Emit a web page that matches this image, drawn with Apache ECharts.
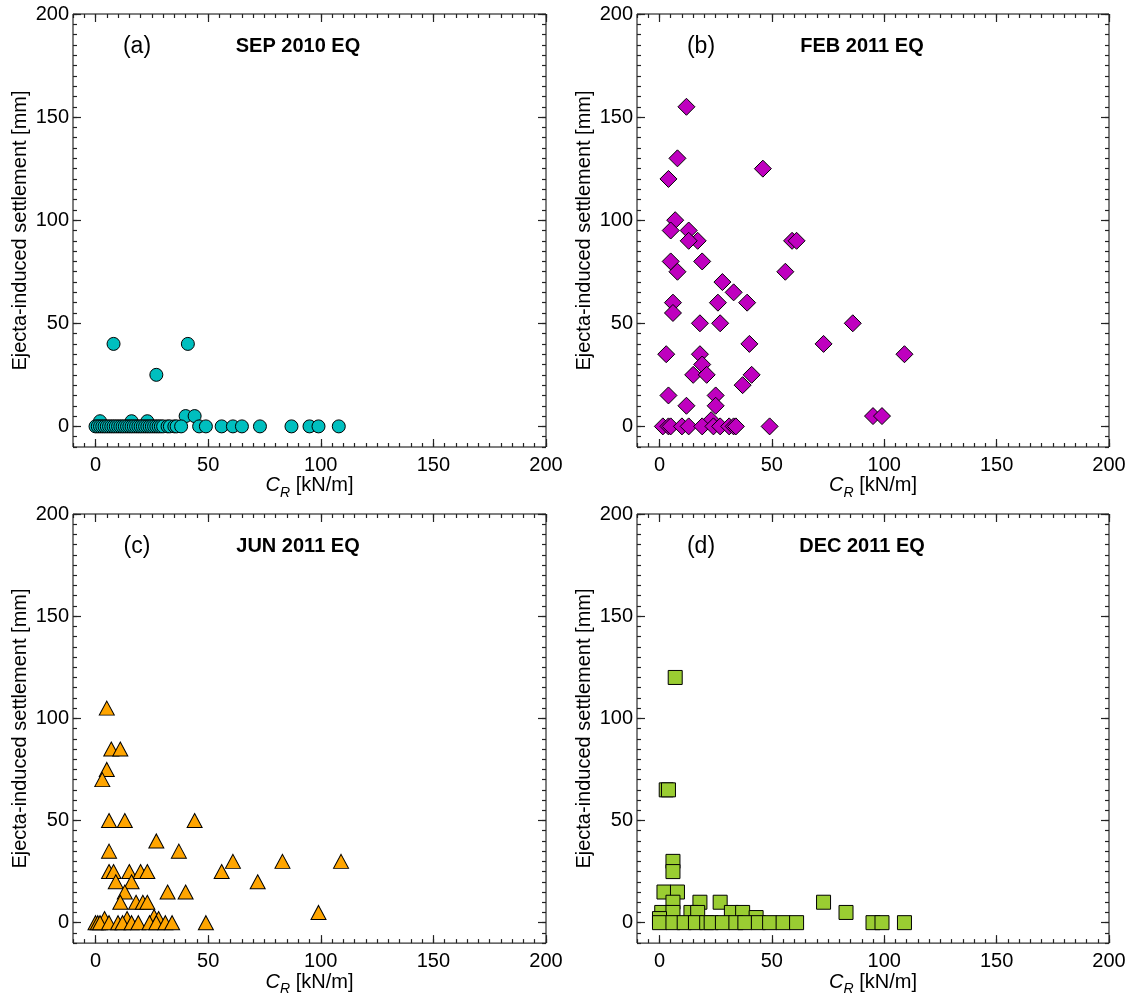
<!DOCTYPE html>
<html>
<head>
<meta charset="utf-8">
<script src="https://cdn.jsdelivr.net/npm/echarts@6/dist/echarts.min.js"></script>
<style>
html,body{margin:0;padding:0;background:#fff;}
#chart{width:1133px;height:997px;}
</style>
</head>
<body>
<div id="chart"></div>
<script>
// ---- Data ----
const panelLabels = ['(a)', '(b)', '(c)', '(d)'];
const panelTitles = ['SEP 2010 EQ', 'FEB 2011 EQ', 'JUN 2011 EQ', 'DEC 2011 EQ'];
const majorTicks = [0, 50, 100, 150, 200];

// SEP 2010 EQ  (C_R [kN/m], settlement [mm])
const sepX = [8, 41, 27, 2, 16, 23, 40, 44,
  0, 1, 2, 3, 4, 5, 6, 7, 8, 9, 10, 11, 12, 13, 14, 15, 16, 17, 18, 19, 20, 21, 22, 23, 24, 25, 26, 27, 28, 29, 30, 32, 33, 35, 36, 38,
  46, 49, 56, 61, 65, 73, 87, 95, 99, 108];
const sepY = [40, 40, 25, 2.5, 2.5, 2.5, 5, 5,
  0, 0, 0, 0, 0, 0, 0, 0, 0, 0, 0, 0, 0, 0, 0, 0, 0, 0, 0, 0, 0, 0, 0, 0, 0, 0, 0, 0, 0, 0, 0, 0, 0, 0, 0, 0,
  0, 0, 0, 0, 0, 0, 0, 0, 0, 0];

// FEB 2011 EQ
const febX = [12, 8, 4, 46, 7, 5, 13, 17, 13, 59, 61, 5, 8, 19, 56, 28, 33, 6, 6, 26, 39, 18, 27, 86, 40, 73, 3, 18, 109, 19, 15, 21, 41, 37, 4, 25, 12, 25, 23, 95, 99,
  1.5, 4, 5, 10, 13, 19, 24, 27, 31, 33, 34, 49];
const febY = [155, 130, 120, 125, 100, 95, 95, 90, 90, 90, 90, 80, 75, 80, 75, 70, 65, 60, 55, 60, 60, 50, 50, 50, 40, 40, 35, 35, 35, 30, 25, 25, 25, 20, 15, 15, 10, 10, 3, 5, 5,
  0, 0, 0, 0, 0, 0, 0, 0, 0, 0, 0, 0];

// JUN 2011 EQ
const junX = [5, 7, 11, 5, 3, 6, 13, 44, 27, 6, 37, 61, 83, 109, 6, 8, 15, 20, 23, 56, 9, 16, 72, 13, 32, 40, 11, 18, 21, 23, 99, 4, 14, 26, 28,
  0, 1, 2, 6, 10, 12, 16, 19, 24, 27, 31, 34, 49];
const junY = [105, 85, 85, 75, 70, 50, 50, 50, 40, 35, 35, 30, 30, 30, 25, 25, 25, 25, 25, 25, 20, 20, 20, 15, 15, 15, 10, 10, 10, 10, 5, 2, 2, 3, 2,
  0, 0, 0, 0, 0, 0, 0, 0, 0, 0, 0, 0, 0];

// DEC 2011 EQ
const decX = [7, 3, 4, 6, 6, 2, 8, 6, 18, 27, 73, 83, 1, 6, 14, 17, 32, 37, 43, 0,
  0, 6, 11, 16, 21, 23, 28, 34, 38, 44, 49, 55, 61, 95, 99, 109];
const decY = [120, 65, 65, 30, 25, 15, 15, 10, 10, 10, 10, 5, 5, 5, 5, 5, 5, 5, 2.5, 2,
  0, 0, 0, 0, 0, 0, 0, 0, 0, 0, 0, 0, 0, 0, 0, 0];

const seriesX = [sepX, febX, junX, decX];
const seriesY = [sepY, febY, junY, decY];

// ---- Styles ----
const FONT = '"Liberation Sans", Arial, Helvetica, sans-serif';
const symbols = ['circle', 'diamond', 'triangle', 'rect'];
const symbolSizes = [13, [17, 17], [15, 14], 14];
const colors = ['#00BFBF', '#BF00BF', '#FFA500', '#9ACD32'];
const grids = [
  {left: 73, top: 14, width: 473, height: 433},
  {left: 637, top: 14, width: 472, height: 433},
  {left: 73, top: 514, width: 473, height: 432},
  {left: 637, top: 514, width: 472, height: 432}
];

const chart = echarts.init(document.getElementById('chart'), null, {renderer: 'canvas'});

const xAxes = [], yAxes = [], series = [], graphics = [];
const TICK_COLOR = '#222';

function axisSet(gi, dim, position, major, withLabels) {
  const a = {
    gridIndex: gi,
    type: 'value',
    min: -10,
    max: 200,
    position: position,
    axisLine: {show: false, onZero: false},
    splitLine: {show: false},
    axisPointer: {show: false}
  };
  if (major) {
    a.axisTick = {show: true, inside: true, length: 8, customValues: majorTicks,
      lineStyle: {color: TICK_COLOR, width: 1.2}};
    a.axisLabel = {show: withLabels, customValues: majorTicks, fontSize: 20, color: '#000',
      fontFamily: FONT, margin: dim === 'x' ? 8 : 4};
  } else {
    a.interval = 5;
    a.axisTick = {show: true, inside: true, length: 4, lineStyle: {color: TICK_COLOR, width: 1.2}};
    a.axisLabel = {show: false};
  }
  return a;
}

for (let i = 0; i < 4; i++) {
  const g = grids[i];
  const xBase = xAxes.length, yBase = yAxes.length;
  const xMain = axisSet(i, 'x', 'bottom', true, true);
  xMain.name = '{i|C}{s|R}{n| [kN/m]}';
  xMain.nameLocation = 'middle';
  xMain.nameGap = 22;
  xMain.nameTextStyle = {
    fontSize: 20, color: '#000', fontFamily: FONT,
    rich: {
      i: {fontSize: 20, fontStyle: 'italic', fontFamily: FONT, color: '#000', lineHeight: 28},
      s: {fontSize: 14, fontStyle: 'italic', fontFamily: FONT, color: '#000', lineHeight: 14, verticalAlign: 'bottom'},
      n: {fontSize: 20, fontFamily: FONT, color: '#000', lineHeight: 28}
    }
  };
  xAxes.push(xMain);
  xAxes.push(axisSet(i, 'x', 'bottom', false, false));
  xAxes.push(axisSet(i, 'x', 'top', true, false));
  xAxes.push(axisSet(i, 'x', 'top', false, false));

  const yMain = axisSet(i, 'y', 'left', true, true);
  yMain.name = 'Ejecta-induced settlement [mm]';
  yMain.nameLocation = 'middle';
  yMain.nameGap = 43;
  yMain.nameTextStyle = {fontSize: 20, color: '#000', fontFamily: FONT};
  yAxes.push(yMain);
  yAxes.push(axisSet(i, 'y', 'left', false, false));
  yAxes.push(axisSet(i, 'y', 'right', true, false));
  yAxes.push(axisSet(i, 'y', 'right', false, false));

  const pts = seriesX[i].map((x, k) => [x, seriesY[i][k]]);
  series.push({
    type: 'scatter',
    xAxisIndex: xBase,
    yAxisIndex: yBase,
    data: pts,
    symbol: symbols[i],
    symbolSize: symbolSizes[i],
    itemStyle: {color: colors[i], borderColor: '#000', borderWidth: 1, opacity: 1},
    emphasis: {disabled: true},
    animation: false
  });

  // panel annotations
  graphics.push({
    type: 'text', x: g.left + 64, y: g.top + 33,
    style: {text: panelLabels[i], fontSize: 23, fontFamily: FONT, fill: '#000',
      align: 'center', verticalAlign: 'middle'}
  });
  graphics.push({
    type: 'text', x: g.left + 225, y: g.top + 32,
    style: {text: panelTitles[i], fontSize: 20, fontWeight: 'bold', fontFamily: FONT, fill: '#000',
      align: 'center', verticalAlign: 'middle'}
  });
}

const option = {
  backgroundColor: '#fff',
  animation: false,
  grid: grids.map(g => Object.assign({show: true, borderColor: '#000', borderWidth: 1,
    backgroundColor: 'transparent', containLabel: false}, g)),
  xAxis: xAxes,
  yAxis: yAxes,
  series: series,
  graphic: graphics
};
chart.setOption(option);
</script>
</body>
</html>
